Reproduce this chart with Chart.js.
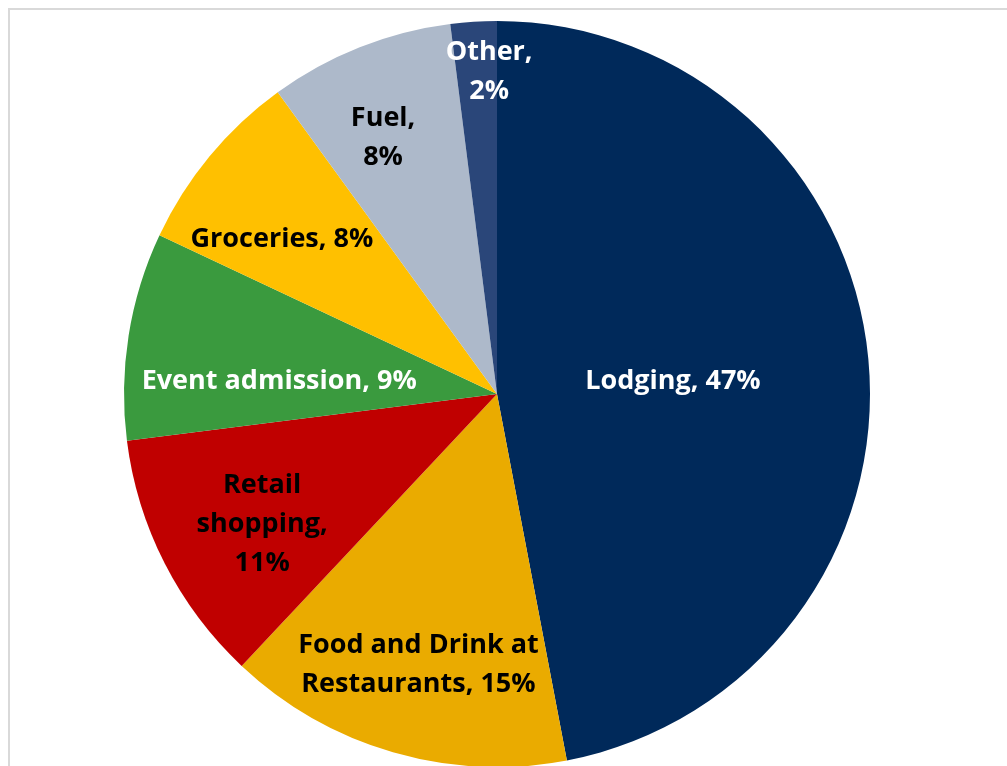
<!DOCTYPE html>
<html>
<head>
<meta charset="utf-8">
<title>Visitor spending by category</title>
<script src="https://cdn.jsdelivr.net/npm/chart.js@4.4.1/dist/chart.umd.min.js"></script>
<style>
  html, body { margin: 0; padding: 0; background: #ffffff; overflow: hidden; }
  body { width: 1007px; height: 766px; position: relative; }
  #frame {
    position: absolute; left: 8px; top: 8px;
    width: 1100px; height: 900px;
    border-left: 2px solid #d9d9d9; border-top: 2px solid #d9d9d9;
  }
  #wrap { position: absolute; left: 117px; top: 14px; width: 760px; height: 760px; }
</style>
</head>
<body>
<div id="frame"></div>
<div id="wrap"><canvas id="pie" width="760" height="760"></canvas></div>
<script>
// Spending categories, clockwise from 12 o'clock
const categories = ["Lodging", "Food and Drink at Restaurants", "Retail shopping", "Event admission", "Groceries", "Fuel", "Other"];
const shares = [47, 15, 11, 9, 8, 8, 2];
// Label text as broken onto lines
const labelLines = [
  ["Lodging, 47%"],
  ["Food and Drink at", "Restaurants, 15%"],
  ["Retail", "shopping,", "11%"],
  ["Event admission, 9%"],
  ["Groceries, 8%"],
  ["Fuel,", "8%"],
  ["Other,", "2%"]
];

const sliceColors = ["#00295A", "#EAAB00", "#C00000", "#3A9A3E", "#FFC000", "#ADB9CA", "#2A4679"];
const labelColors = ["#ffffff", "#000000", "#000000", "#ffffff", "#000000", "#000000", "#ffffff"];
// Label placement: fraction of radius, angular nudge in degrees from slice middle
const labelPlace = [[0.473, 1.2], [0.755, 0], [0.72, -2], [0.585, -5.6], [0.711, -3.8], [0.751, -2.4], [0.863, 2.2]];

const sliceLabels = {
  id: 'sliceLabels',
  afterDatasetsDraw(chart) {
    const ctx = chart.ctx;
    const arcs = chart.getDatasetMeta(0).data;
    ctx.save();
    ctx.font = 'bold 27px "Open Sans", Lato, sans-serif';
    ctx.textAlign = 'center';
    ctx.textBaseline = 'middle';
    const lineH = 39;
    arcs.forEach((arc, i) => {
      const p = arc.getProps(['x', 'y', 'startAngle', 'endAngle', 'outerRadius'], true);
      const mid = (p.startAngle + p.endAngle) / 2 + labelPlace[i][1] * Math.PI / 180;
      const r = p.outerRadius * labelPlace[i][0];
      const cx = p.x + Math.cos(mid) * r;
      const cy = p.y + Math.sin(mid) * r;
      const lines = labelLines[i];
      ctx.fillStyle = labelColors[i];
      lines.forEach((t, k) => {
        ctx.fillText(t, cx, cy + (k - (lines.length - 1) / 2) * lineH);
      });
    });
    ctx.restore();
  }
};

new Chart(document.getElementById('pie'), {
  type: 'pie',
  data: {
    labels: categories,
    datasets: [{
      data: shares,
      backgroundColor: sliceColors,
      borderWidth: 0,
      hoverOffset: 0
    }]
  },
  options: {
    responsive: false,
    animation: false,
    radius: 373,
    layout: { padding: 0 },
    events: [],
    plugins: {
      legend: { display: false },
      tooltip: { enabled: false }
    }
  },
  plugins: [sliceLabels]
});
</script>
</body>
</html>
